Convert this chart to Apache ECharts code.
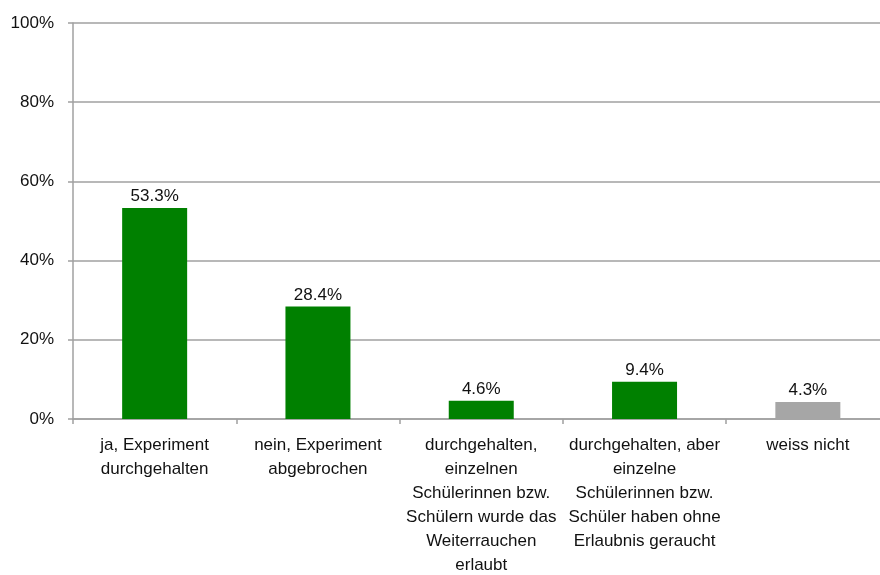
<!DOCTYPE html>
<html>
<head>
<meta charset="utf-8">
<script src="https://cdn.jsdelivr.net/npm/echarts@6/dist/echarts.min.js"></script>
<style>html,body{margin:0;padding:0;background:#fff}#c{width:880px;height:575px}</style>
</head>
<body>
<div id="c"></div>
<script>
const categories = [
  "ja, Experiment\ndurchgehalten",
  "nein, Experiment\nabgebrochen",
  "durchgehalten,\neinzelnen\nSchülerinnen bzw.\nSchülern wurde das\nWeiterrauchen\nerlaubt",
  "durchgehalten, aber\neinzelne\nSchülerinnen bzw.\nSchüler haben ohne\nErlaubnis geraucht",
  "weiss nicht"
];
const values = [53.3, 28.4, 4.6, 9.4, 4.3];
const barColors = ["#008000", "#008000", "#008000", "#008000", "#a6a6a6"];
const yTicks = { min: 0, max: 100, interval: 20 };

const chart = echarts.init(document.getElementById('c'), null, { renderer: 'canvas' });
const font = "'Liberation Sans', Arial, sans-serif";
chart.setOption({
  animation: false,
  grid: { left: 73, right: -9.5, top: 23, bottom: 156, outerBoundsMode: 'none', containLabel: false },
  xAxis: {
    type: 'category',
    data: categories,
    boundaryGap: true,
    axisLine: { show: true, lineStyle: { color: '#a0a0a0', width: 1.5 } },
    axisTick: { show: true, alignWithLabel: false, length: 5, lineStyle: { color: '#a0a0a0', width: 1.5 } },
    axisLabel: { interval: 0, margin: 14, color: '#111', fontSize: 17, fontFamily: font, lineHeight: 24, align: 'center' }
  },
  yAxis: {
    type: 'value',
    min: yTicks.min, max: yTicks.max, interval: yTicks.interval,
    axisLine: { show: true, lineStyle: { color: '#a0a0a0', width: 1.5 } },
    axisTick: { show: true, length: 5, lineStyle: { color: '#a0a0a0', width: 1.5 } },
    splitLine: { show: true, lineStyle: { color: '#a0a0a0', width: 1.5 } },
    axisLabel: { margin: 19, color: '#111', fontSize: 17, fontFamily: font, formatter: v => v + '%' }
  },
  series: [{
    type: 'bar',
    barWidth: 65,
    data: values.map((v, i) => ({ value: v, itemStyle: { color: barColors[i] } })),
    label: {
      show: true, position: 'top', distance: 3,
      color: '#111', fontSize: 17, fontFamily: font,
      formatter: p => p.value.toFixed(1) + '%'
    }
  }]
});
</script>
</body>
</html>
